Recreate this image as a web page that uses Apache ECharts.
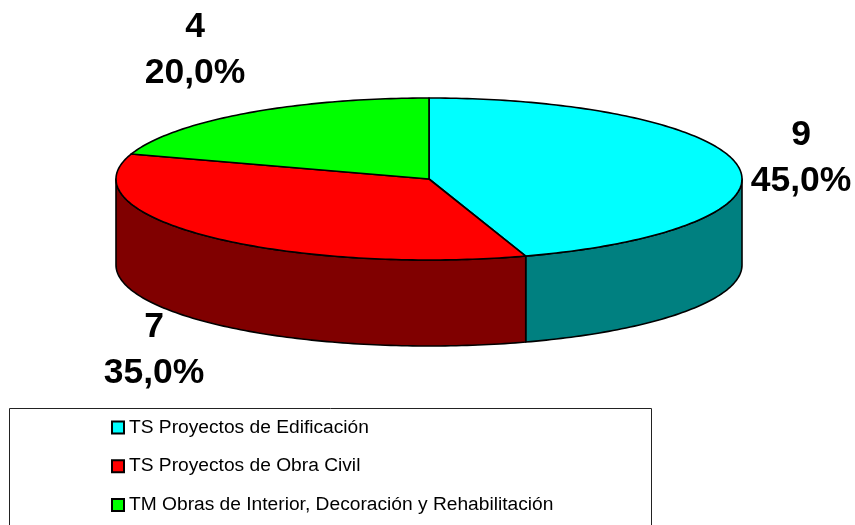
<!DOCTYPE html>
<html><head><meta charset="utf-8">
<style>html,body{margin:0;padding:0;background:#fff}#c{width:855px;height:525px}</style>
<script src="https://cdn.jsdelivr.net/npm/echarts@6/dist/echarts.min.js"></script>
</head><body><div id="c"></div>
<script>
const categories = ['TS Proyectos de Edificación','TS Proyectos de Obra Civil','TM Obras de Interior, Decoración y Rehabilitación'];
const values = [9,7,4];
const percentLabels = ['45,0%','35,0%','20,0%'];
const topColors = ['#00FFFF','#FF0000','#00FF00'];
const wallColors = ['#008080','#800000','#008000'];

const PIE = {cx:429, cy:179, rx:313, ry:81, depth:86};
const LABEL_POS = [[801,158.5],[154,350.5],[195,50.5]];
const total = values.reduce((a,b)=>a+b,0);
const pt = (deg,dy)=>{const r=deg*Math.PI/180;return [PIE.cx+PIE.rx*Math.sin(r),PIE.cy-PIE.ry*Math.cos(r)+(dy||0)];};
const arc = (a,b,dy)=>{const n=Math.max(2,Math.ceil(Math.abs(b-a)));const o=[];for(let i=0;i<=n;i++)o.push(pt(a+(b-a)*i/n,dy));return o;};

function makeRender(idx){
  return function(params,api){
    const before = values.slice(0,idx).reduce((a,b)=>a+b,0);
    const a0 = before/total*360, a1 = a0+api.value(0)/total*360;
    const children=[];
    const wa=Math.max(a0,90), wb=Math.min(a1,270);
    const line={stroke:'#000',lineWidth:1.6,lineJoin:'round'};
    if(wb>wa){
      children.push({type:'polygon',shape:{points:arc(wa,wb,0).concat(arc(wb,wa,PIE.depth))},
        style:Object.assign({fill:wallColors[idx]},line)});
    }
    children.push({type:'polygon',shape:{points:[[PIE.cx,PIE.cy]].concat(arc(a0,a1,0))},
      style:Object.assign({fill:topColors[idx]},line)});
    children.push({type:'text',x:LABEL_POS[idx][0],y:LABEL_POS[idx][1],
      style:{text:api.value(0)+'\n'+percentLabels[idx],fill:'#000',
        font:'bold 35.5px "Liberation Sans", Arial, sans-serif',lineHeight:46,
        textAlign:'center',textVerticalAlign:'middle'}});
    return {type:'group',children};
  };
}

const chart = echarts.init(document.getElementById('c'),null,{renderer:'canvas'});
chart.setOption({
  animation:false,
  backgroundColor:'#fff',
  legend:{
    orient:'vertical',left:111,top:418,padding:0,itemWidth:12,itemHeight:12,itemGap:19.7,
    icon:'rect',selectedMode:false,data:categories,
    textStyle:{color:'#000',fontSize:19.2,fontFamily:'"Liberation Sans", Arial, sans-serif',lineHeight:18}
  },
  graphic:[{type:'rect',z:-1,shape:{x:9.5,y:408.5,width:642,height:130},style:{fill:'#fff',stroke:'#222',lineWidth:1}}],
  series:categories.map((name,i)=>({
    type:'custom',name,coordinateSystem:'none',
    renderItem:makeRender(i),
    data:[[values[i]]],
    itemStyle:{color:topColors[i],borderColor:'#000',borderWidth:1}
  }))
});
</script></body></html>
